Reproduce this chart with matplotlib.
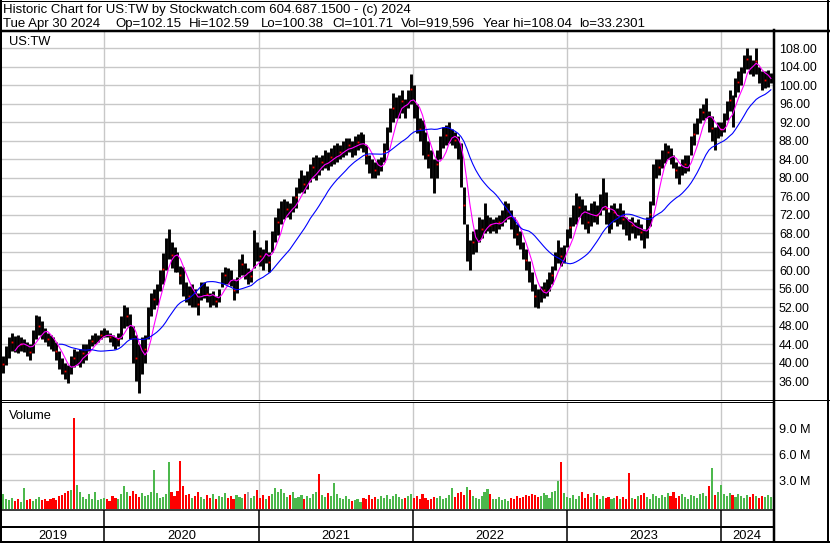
import numpy as np
import pandas as pd
import matplotlib
matplotlib.use('Agg')
import matplotlib.pyplot as plt
from matplotlib.lines import Line2D

plt.rcParams['font.family'] = ['Liberation Sans', 'DejaVu Sans']

W, H = 830, 543

# weekly low / high of US:TW (USD), weeks from May 2019
week_lo = [37.7, 39.5, 41.0, 42.5, 42.3, 42.0, 42.5, 42.3, 41.5, 40.5,
           42.0, 45.0, 46.0, 45.0, 44.5, 43.5, 43.0, 42.5, 40.5, 38.5,
           37.5, 36.5, 35.6, 37.5, 39.0, 39.5, 39.0, 40.0, 40.5, 42.5,
           43.5, 44.0, 44.5, 45.0, 45.5, 45.5, 44.5, 43.5, 43.0, 43.5,
           45.0, 47.5, 48.0, 45.0, 40.0, 36.0, 33.4, 37.6, 40.0, 45.0,
           50.0, 51.5, 52.5, 55.5, 57.0, 60.0, 62.5, 60.5, 59.5, 59.5,
           57.0, 54.5, 53.0, 52.5, 52.0, 52.0, 50.3, 53.5, 54.0, 53.0,
           52.0, 52.5, 52.0, 53.0, 56.4, 57.0, 57.0, 56.5, 53.5, 55.0,
           58.5, 59.0, 58.0, 57.0, 57.5, 60.5, 62.0, 61.0, 60.0, 61.5,
           59.7, 64.0, 66.0, 67.5, 70.0, 71.0, 71.5, 71.0, 72.5, 73.5,
           76.6, 77.0, 76.6, 77.5, 79.0, 80.0, 79.5, 80.5, 81.6, 82.0,
           81.6, 82.5, 83.0, 83.5, 84.0, 84.5, 85.0, 85.5, 84.5, 85.0,
           86.0, 86.5, 85.5, 83.0, 81.0, 80.0, 80.0, 80.5, 81.5, 83.5,
           86.0, 90.0, 92.0, 93.0, 93.0, 94.0, 93.0, 95.0, 96.0, 93.0,
           89.6, 88.0, 85.0, 84.0, 82.0, 80.0, 76.7, 80.0, 84.0, 86.5,
           87.0, 87.5, 87.0, 86.5, 84.0, 78.0, 70.0, 62.0, 60.0, 63.5,
           64.0, 66.0, 67.0, 68.0, 68.5, 68.0, 68.5, 68.0, 69.0, 69.5,
           70.5, 71.0, 69.0, 67.0, 65.5, 64.5, 62.5, 60.0, 57.5, 55.5,
           52.0, 51.7, 53.0, 54.0, 54.5, 55.5, 57.0, 60.0, 61.5, 61.0,
           61.5, 65.0, 67.0, 69.5, 70.0, 71.5, 70.0, 69.0, 68.0, 69.5,
           70.5, 70.0, 72.0, 73.0, 70.0, 68.0, 69.0, 70.5, 69.5, 70.0,
           69.0, 67.5, 66.5, 68.0, 67.0, 67.5, 66.5, 64.8, 67.0, 69.5,
           74.0, 80.0, 80.5, 82.0, 83.2, 84.0, 83.0, 82.0, 80.0, 78.6,
           80.5, 81.0, 81.5, 85.0, 87.0, 89.5, 91.8, 92.5, 93.0, 90.0,
           88.0, 86.0, 88.5, 89.0, 90.0, 92.5, 94.5, 91.0, 97.5, 98.5,
           100.0, 102.6, 103.5, 102.5, 102.0, 102.5, 100.5, 99.0, 99.5, 99.6,
           100.4]
week_hi = [41.5, 43.5, 45.5, 46.4, 45.8, 46.0, 45.5, 45.0, 44.5, 44.0,
           47.0, 50.3, 50.0, 49.0, 47.5, 46.5, 46.0, 45.5, 44.5, 42.5,
           41.0, 40.0, 39.5, 41.5, 43.0, 42.5, 43.0, 44.0, 44.0, 45.0,
           46.0, 46.5, 46.0, 47.0, 47.5, 47.0, 46.5, 46.0, 45.5, 46.5,
           50.0, 52.5, 52.0, 50.5, 48.0, 46.0, 44.0, 45.5, 46.0, 52.0,
           55.0, 56.0, 57.0, 60.0, 63.7, 67.0, 69.0, 66.0, 65.0, 64.0,
           61.0, 60.7, 57.5, 56.5, 57.0, 56.0, 55.0, 57.5, 57.5, 56.5,
           55.0, 55.5, 54.5, 56.0, 59.5, 60.7, 60.5, 60.0, 58.0, 58.5,
           62.5, 63.5, 61.5, 60.5, 60.0, 68.7, 66.0, 65.0, 64.5, 66.5,
           64.0, 68.5, 71.5, 73.5, 75.0, 75.5, 75.0, 74.5, 76.0, 78.0,
           80.0, 81.6, 80.5, 81.5, 83.0, 84.5, 85.0, 84.5, 85.0, 86.0,
           85.5, 86.5, 87.0, 87.5, 87.0, 88.0, 88.5, 88.5, 88.0, 89.0,
           89.5, 90.0, 89.5, 87.0, 85.0, 84.0, 83.5, 84.0, 84.5, 87.5,
           91.0, 95.0, 98.3, 97.5, 98.0, 99.0, 97.0, 99.0, 102.4, 100.0,
           96.0, 93.0, 92.5, 90.0, 88.0, 86.0, 84.0, 86.0, 89.0, 91.0,
           91.5, 92.0, 90.5, 90.0, 89.0, 87.5, 78.0, 70.0, 66.5, 68.5,
           69.0, 71.5, 71.0, 74.5, 72.0, 71.5, 71.0, 71.5, 72.0, 73.0,
           75.0, 74.5, 73.0, 71.5, 70.0, 68.5, 66.0, 64.5, 62.0, 59.5,
           57.0, 56.0, 56.5, 57.5, 58.0, 59.5, 61.0, 64.0, 66.5, 65.0,
           65.5, 69.0, 71.5, 74.0, 76.6, 76.0, 75.5, 74.0, 73.0, 74.5,
           75.0, 74.0, 76.5, 80.0, 77.0, 72.5, 74.0, 74.5, 73.5, 74.5,
           73.0, 71.5, 71.0, 71.5, 70.5, 71.0, 70.0, 69.0, 71.5, 75.0,
           83.0, 84.0, 84.0, 86.0, 87.5, 87.0, 86.5, 85.0, 83.5, 82.5,
           84.0, 85.0, 85.0, 89.0, 91.8, 93.0, 95.0, 96.0, 97.2, 94.5,
           93.3, 91.0, 92.0, 92.0, 94.0, 96.5, 99.0, 98.0, 101.5, 103.0,
           104.0, 106.5, 108.0, 106.5, 105.5, 108.0, 104.0, 103.0, 103.0, 103.3,
           102.6]
# weekly volume, millions of shares
volume_m = [1.4, 0.9, 0.7, 1.0, 0.6, 0.8, 0.5, 2.1, 0.7, 0.8,
            0.6, 0.9, 1.1, 0.7, 0.8, 0.6, 0.9, 1.0, 0.7, 1.2,
            1.3, 1.5, 1.8, 1.9, 10.2, 2.5, 1.6, 1.1, 0.9, 1.4,
            0.8, 1.6, 0.7, 0.9, 1.0, 0.8, 0.6, 1.2, 1.0, 0.9,
            1.4, 2.3, 1.6, 1.2, 1.8, 1.4, 1.1, 1.5, 1.2, 1.3,
            1.6, 4.2, 1.5, 1.0, 1.1, 1.4, 5.1, 1.7, 1.2, 1.8,
            5.2, 2.3, 1.3, 1.4, 1.0, 1.2, 1.6, 1.1, 0.9, 1.3,
            1.0, 1.4, 0.9, 1.2, 1.1, 1.5, 1.0, 1.2, 0.8, 1.3,
            1.1, 1.0, 1.4, 1.6, 1.0, 1.2, 1.9, 1.0, 1.3, 0.9,
            1.2, 1.4, 2.1, 1.7, 2.0, 1.5, 1.1, 1.3, 1.7, 1.0,
            1.1, 1.3, 0.9, 1.2, 1.0, 1.4, 1.6, 3.7, 1.3, 1.1,
            1.5, 1.2, 2.7, 1.4, 1.0, 0.9, 1.2, 0.8, 0.6, 0.7,
            0.9, 0.5, 1.0, 0.8, 1.3, 0.9, 1.1, 0.8, 1.2, 1.0,
            1.3, 0.9, 1.2, 1.4, 1.1, 0.8, 1.0, 1.2, 1.4, 1.0,
            1.2, 0.9, 1.4, 1.0, 0.7, 0.8, 1.1, 1.0, 1.2, 0.8,
            1.0, 1.3, 2.1, 1.1, 1.5, 1.6, 1.3, 2.2, 1.9, 1.2,
            1.0, 0.9, 1.2, 1.6, 2.0, 1.4, 0.9, 0.8, 1.1, 0.7,
            0.9, 0.6, 1.0, 0.8, 1.2, 1.0, 1.1, 1.3, 1.2, 1.4,
            1.3, 1.1, 1.2, 1.5, 1.3, 1.0, 1.6, 1.8, 2.9, 5.1,
            1.5, 1.1, 1.0, 1.3, 0.9, 1.2, 1.6, 1.0, 1.4, 1.1,
            1.5, 1.3, 0.9, 1.2, 1.0, 1.1, 0.8, 1.0, 1.2, 0.9,
            1.1, 0.9, 3.8, 1.0, 0.8, 1.2, 1.3, 1.5, 1.1, 0.9,
            1.4, 1.2, 1.0, 1.3, 1.1, 1.5, 1.2, 1.7, 1.0, 1.2,
            1.4, 1.1, 0.9, 1.3, 1.2, 1.0, 1.4, 1.5, 1.2, 2.3,
            4.4, 1.3, 1.6, 2.5, 1.4, 1.2, 1.5, 1.3, 1.1, 1.4,
            1.2, 1.0, 1.3, 1.1, 1.4, 1.2, 1.0, 1.2, 1.1, 1.3,
            1.1]
# colours of the tall volume bars as seen in the chart
spike_colors = {7: 'g', 24: 'r', 25: 'g', 51: 'g', 56: 'g', 60: 'r', 61: 'r',
                83: 'gray', 107: 'r', 112: 'g', 152: 'g', 157: 'g', 164: 'g',
                188: 'g', 189: 'r', 212: 'r', 239: 'r', 240: 'g', 243: 'g'}

price_ticks = np.arange(36, 109, 4)
vol_ticks = [3, 6, 9]
years = [2019, 2020, 2021, 2022, 2023, 2024]

header1 = 'Historic Chart for US:TW by Stockwatch.com 604.687.1500 - (c) 2024'
header2 = ['Tue Apr 30 2024', 'Op=102.15', 'Hi=102.59', 'Lo=100.38', 'Cl=101.71',
           'Vol=919,596', 'Year hi=108.04', 'lo=33.2301']
header2_x = [3, 115, 189, 261, 332, 401, 483, 579]

lo = np.array(week_lo)
hi = np.array(week_hi)
mid = (lo + hi) / 2
weeks = pd.date_range('2019-05-06', periods=len(lo), freq='7D')
ma_fast = pd.Series(mid).rolling(5).mean()
ma_slow = pd.Series(mid).rolling(20).mean()

GREEN = '#4cb84c'
RED = '#ff0000'
GRID = '#c8c8c8'
cmap = {'g': GREEN, 'r': RED, 'gray': '#a8a8a8'}
vcolors = [GREEN if i == 0 or mid[i] >= mid[i - 1] else RED for i in range(len(mid))]
for k, c in spike_colors.items():
    vcolors[k] = cmap[c]

x_left = pd.Timestamp('2019-05-03')
x_right = pd.Timestamp('2024-05-04')
year_starts = [pd.Timestamp(f'{y}-01-01') for y in years[1:]]


def rect(x0, y0, x1, y1):
    return [x0 / W, 1 - y1 / H, (x1 - x0) / W, (y1 - y0) / H]


def hline(y, x0, x1, lw):
    fig.add_artist(Line2D([x0 / W, x1 / W], [1 - y / H, 1 - y / H], color='black', lw=lw * 0.72))


def vline(x, y0, y1, lw):
    fig.add_artist(Line2D([x / W, x / W], [1 - y0 / H, 1 - y1 / H], color='black', lw=lw * 0.72))


fig = plt.figure(figsize=(W / 100, H / 100), dpi=100)

# price panel
ax = fig.add_axes(rect(2, 31, 773, 399.5))
ax.vlines(weeks, lo, hi, color='black', lw=2.1, zorder=3)
ax.plot(weeks[::3], mid[::3], 's', color='red', ms=1.3, mew=0, zorder=4)
ax.plot(weeks, ma_fast, color='#ff00ff', lw=0.8, zorder=5)
ax.plot(weeks, ma_slow, color='#0000ff', lw=0.8, zorder=5)
ax.set_xlim(x_left, x_right)
ax.set_ylim(32.0, 111.75)
ax.set_yticks(price_ticks)
ax.set_yticklabels([f'{t:.2f}' for t in price_ticks])
ax.set_xticks(year_starts)
ax.grid(True, color=GRID, lw=1.0)
ax.set_axisbelow(True)
ax.tick_params(axis='y', left=False, labelleft=False, right=False, labelright=True,
               length=0, pad=4.3, labelsize=8.9, colors='black')
ax.tick_params(axis='x', bottom=False, labelbottom=False, length=0)
for s in ax.spines.values():
    s.set_visible(False)
ax.text(7 / 771, 0.986, 'US:TW', transform=ax.transAxes, ha='left', va='top', fontsize=9.3)

# volume panel
axv = fig.add_axes(rect(2, 402.5, 773, 509), sharex=ax)
vol_floor = -0.31
axv.bar(weeks, np.array(volume_m) - vol_floor, bottom=vol_floor, width=5,
        color=vcolors, lw=0, zorder=3)
axv.set_ylim(vol_floor, 11.98)
axv.set_yticks(vol_ticks)
axv.set_yticklabels([f'{t:.1f} M' for t in vol_ticks])
axv.grid(True, color=GRID, lw=1.0)
axv.set_axisbelow(True)
axv.tick_params(axis='y', left=False, labelleft=False, right=False, labelright=True,
                length=0, pad=4.3, labelsize=9.1, colors='black')
axv.tick_params(axis='x', bottom=False, labelbottom=False, length=0)
for s in axv.spines.values():
    s.set_visible(False)
axv.text(7 / 771, 0.93, 'Volume', transform=axv.transAxes, ha='left', va='top', fontsize=9.3)

# year band
axb = fig.add_axes(rect(2, 509.5, 773, 542), sharex=ax)
axb.set_ylim(0, 1)
axb.axis('off')
for d in year_starts:
    axb.axvline(d, color='black', lw=1.1)
edges = [x_left] + year_starts + [x_right]
for i, y in enumerate(years):
    c = edges[i] + (edges[i + 1] - edges[i]) / 2
    axb.text(c, 0.09, str(y), ha='center', va='baseline', fontsize=9.3)

# frame lines
hline(0.5, 0, W, 1)
hline(30.5, 0, W, 2.5)
vline(1, 0, H, 2)
vline(828, 0, H, 2)
vline(773.5, 30, H, 2.5)
hline(399.5, 0, W, 1)
hline(402, 0, 773, 1)
hline(509.5, 0, 773, 1.5)
hline(527, 0, 773, 2)
hline(542, 0, W, 2)

fig.text(3 / W, 1 - 13.5 / H, header1, ha='left', va='baseline', fontsize=9.5)
for txt, x in zip(header2, header2_x):
    fig.text(x / W, 1 - 27 / H, txt, ha='left', va='baseline', fontsize=9.5)

fig.savefig('out.png', dpi=100)
